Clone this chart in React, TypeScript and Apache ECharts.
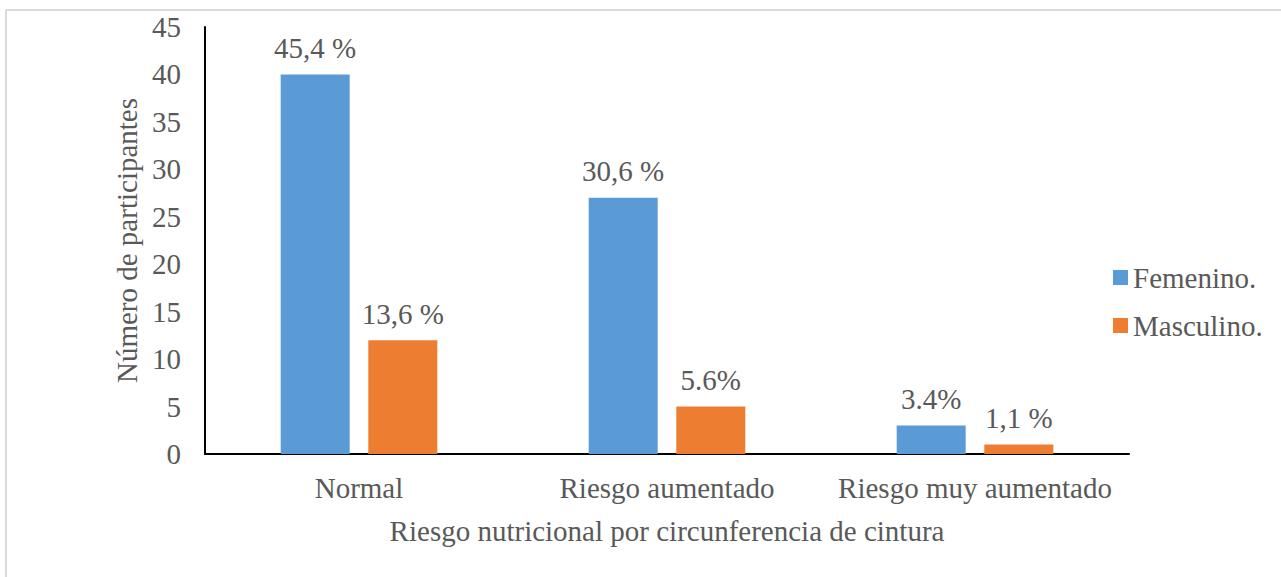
import React, { useEffect, useRef } from "react";
import * as echarts from "echarts";

const categories = ["Normal", "Riesgo aumentado", "Riesgo muy aumentado"];
const femenino = [40, 27, 3];
const masculino = [12, 5, 1];
const femeninoLabels = ["45,4 %", "30,6 %", "3.4%"];
const masculinoLabels = ["13,6 %", "5.6%", "1,1 %"];
const seriesNames = ["Femenino.", "Masculino."];

const FONT = "Liberation Serif";
const TEXT = "#595959";
const FS = 29;

export default function App() {
  const ref = useRef<HTMLDivElement>(null);
  useEffect(() => {
    if (!ref.current) return;
    const chart = echarts.init(ref.current, null, { renderer: "svg" });
    const labelStyle = (labels: string[]) => ({
      show: true,
      position: "top",
      distance: 12,
      fontFamily: FONT,
      fontSize: FS,
      color: TEXT,
      formatter: (p: any) => labels[p.dataIndex],
    });
    chart.setOption({
      animation: false,
      backgroundColor: "#fff",
      textStyle: { fontFamily: FONT, color: TEXT },
      graphic: [
        { type: "line", shape: { x1: 6, y1: 10, x2: 1281, y2: 10 }, style: { stroke: "#d9d9d9", lineWidth: 2 } },
        { type: "line", shape: { x1: 6, y1: 10, x2: 6, y2: 577 }, style: { stroke: "#d9d9d9", lineWidth: 2 } },
      ],
      grid: { left: 205, top: 27, right: 152, bottom: 123, containLabel: false },
      legend: {
        orient: "vertical",
        left: 1108,
        top: 258,
        itemWidth: 15,
        itemHeight: 15,
        itemGap: 19,
        icon: "rect",
        textStyle: { fontFamily: FONT, fontSize: FS, color: TEXT },
        data: seriesNames,
      },
      xAxis: {
        type: "category",
        data: categories,
        axisLine: { lineStyle: { color: "#000", width: 2 } },
        axisTick: { show: false },
        axisLabel: { interval: 0, fontFamily: FONT, fontSize: FS, color: TEXT, margin: 19 },
        name: "Riesgo nutricional por circunferencia de cintura",
        nameLocation: "middle",
        nameGap: 62,
        nameTextStyle: { fontFamily: FONT, fontSize: FS, color: TEXT },
      },
      yAxis: {
        type: "value",
        min: 0,
        max: 45,
        interval: 5,
        axisLine: { show: true, lineStyle: { color: "#000", width: 2 } },
        axisTick: { show: false },
        splitLine: { show: false },
        axisLabel: { fontFamily: FONT, fontSize: FS, color: TEXT, margin: 24 },
        name: "Número de participantes",
        nameLocation: "middle",
        nameGap: 64,
        nameTextStyle: { fontFamily: FONT, fontSize: FS, color: TEXT },
      },
      series: [
        {
          name: seriesNames[0],
          type: "bar",
          data: femenino,
          barWidth: 69,
          barGap: "27%",
          itemStyle: { color: "#5B9BD5" },
          label: labelStyle(femeninoLabels),
        },
        {
          name: seriesNames[1],
          type: "bar",
          data: masculino,
          barWidth: 69,
          barGap: "27%",
          itemStyle: { color: "#ED7D31" },
          label: labelStyle(masculinoLabels),
        },
      ],
    });
    return () => chart.dispose();
  }, []);
  return (
    <div
      ref={ref}
      style={{ position: "absolute", left: 0, top: 0, width: 1281, height: 577 }}
    />
  );
}
